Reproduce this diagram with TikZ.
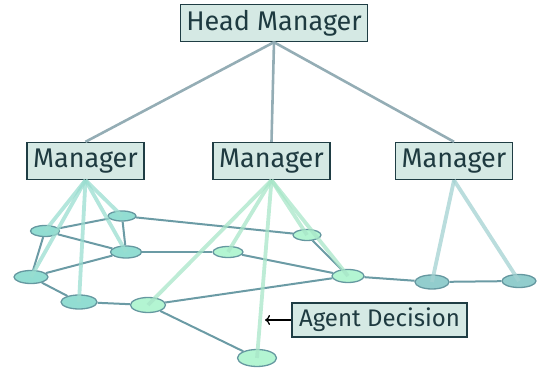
\documentclass[tikz,border=0pt]{standalone}
\usepackage{fontspec}
\setmainfont{Fira Sans}
\usetikzlibrary{shapes.geometric,arrows.meta}
\definecolor{boxfill}{HTML}{D5E9E4}
\definecolor{boxline}{HTML}{1F3D44}
\definecolor{boxtext}{HTML}{1E3A40}
\definecolor{treeedge}{HTML}{94ADB5}
\definecolor{netedge}{HTML}{6B9BA5}
\definecolor{tealfill}{HTML}{92DDD2}
\definecolor{greenfill}{HTML}{B3F5D2}
\definecolor{bluefill}{HTML}{92CDCD}
\definecolor{ringline}{HTML}{6598A0}
\definecolor{tealtie}{HTML}{9ADDD0}
\definecolor{greentie}{HTML}{A8E6C8}
\definecolor{bluetie}{HTML}{A3D2D2}
\begin{document}
\begin{tikzpicture}[x=1pt,y=-1pt,
  mgr/.style={draw=boxline,line width=1.4pt,fill=boxfill,text=boxtext,
    font=\fontsize{27}{30}\selectfont,inner xsep=6pt,minimum height=37pt,anchor=center},
  agent/.style={ellipse,draw=ringline,line width=1.3pt,inner sep=0pt},
  teal/.style={agent,fill=tealfill},
  green/.style={agent,fill=greenfill},
  blue/.style={agent,fill=bluefill},
  tree/.style={draw=treeedge,line width=2.6pt},
  link/.style={draw=netedge,line width=2pt},
  tie/.style={line width=3.8pt,opacity=0.75}]
\useasboundingbox (0,0) rectangle (539,374);

% managers
\node[mgr] (head) at (274,23) {Head Manager};
\node[mgr] (m1) at (85.5,161) {Manager};
\node[mgr] (m2) at (271.5,161) {Manager};
\node[mgr] (m3) at (454,161) {Manager};

% hierarchy links
\draw[tree] (head.south) -- (m1.north);
\draw[tree] (head.south) -- (m2.north);
\draw[tree] (head.south) -- (m3.north);

% agents
\node[teal,minimum width=29pt,minimum height=11pt] (a) at (45,231) {};
\node[teal,minimum width=28pt,minimum height=10pt] (b) at (122,216) {};
\node[teal,minimum width=31pt,minimum height=12pt] (c) at (126,252) {};
\node[teal,minimum width=34pt,minimum height=13pt] (d) at (31,277) {};
\node[teal,minimum width=36pt,minimum height=14pt] (e) at (79,302) {};
\node[green,minimum width=35pt,minimum height=15pt] (f) at (148,305) {};
\node[green,minimum width=30pt,minimum height=11pt] (g) at (228,252) {};
\node[green,minimum width=28pt,minimum height=11pt] (h) at (307,235) {};
\node[green,minimum width=32pt,minimum height=13pt] (i) at (348,276) {};
\node[green,minimum width=39pt,minimum height=17pt] (j) at (257,358) {};
\node[blue,minimum width=34pt,minimum height=14pt] (k) at (432,282) {};
\node[blue,minimum width=34pt,minimum height=13pt] (l) at (519,281) {};

% agent network
\draw[link] (a) -- (b);
\draw[link] (a) -- (c);
\draw[link] (a) -- (d);
\draw[link] (b) -- (c);
\draw[link] (b) -- (h);
\draw[link] (c) -- (g);
\draw[link] (d) -- (c);
\draw[link] (d) -- (e);
\draw[link] (e) -- (f);
\draw[link] (f) -- (i);
\draw[link] (f) -- (j);
\draw[link] (g) -- (i);
\draw[link] (h) -- (i);
\draw[link] (i) -- (k);
\draw[link] (k) -- (l);

% manager-to-agent ties
\foreach \t in {a,b,c,d,e}
  \draw[tie,draw=tealtie] (m1.south) -- (\t.center);
\foreach \t in {f,g,h,i,j}
  \draw[tie,draw=greentie] (m2.south) -- (\t.center);
\foreach \t in {k,l}
  \draw[tie,draw=bluetie] (m3.south) -- (\t.center);

% annotation
\node[mgr,minimum height=34pt,inner xsep=7pt,font=\fontsize{24}{28}\selectfont] (note) at (379.5,320) {Agent Decision};
\coordinate (pick) at (265,320);
\draw[-{To[length=5pt,width=10pt]},line width=1.3pt,black] (note.west) -- (pick);
\end{tikzpicture}
\end{document}
